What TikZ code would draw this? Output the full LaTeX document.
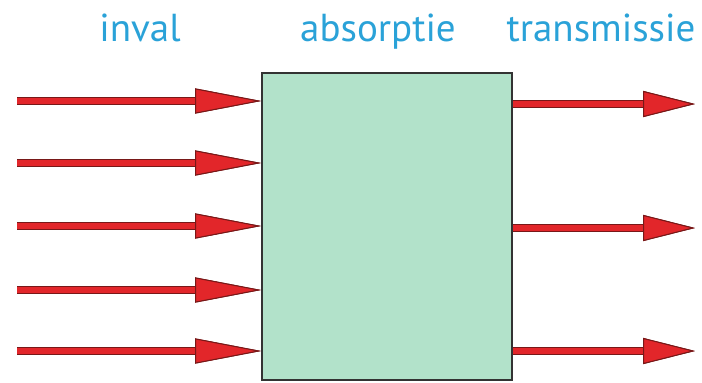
\documentclass[tikz,border=0pt]{standalone}
\usepackage{fontspec}
\setmainfont{PT Sans}
\usetikzlibrary{arrows.meta}

\definecolor{raycol}{RGB}{226,38,42}
\definecolor{rayedge}{RGB}{120,24,24}
\definecolor{mediumcol}{RGB}{178,226,202}
\definecolor{headcol}{RGB}{42,162,216}

\tikzset{
  ray/.style={draw=raycol, line width=6pt,
    preaction={draw=rayedge, line width=8pt}},
  inray/.style={ray, -{Triangle[length=66pt,width=25pt,fill=raycol,color=rayedge,line width=1pt]}},
  outray/.style={ray, -{Triangle[length=52pt,width=26pt,fill=raycol,color=rayedge,line width=1pt]}},
  heading/.style={text=headcol, font=\fontsize{39}{42}\selectfont, anchor=base},
}

\begin{document}
\begin{tikzpicture}[x=1pt,y=-1pt]
\useasboundingbox (0,0) rectangle (702,383);

% the absorbing layer
\node[draw=black!80, line width=1.6pt, fill=mediumcol, minimum width=250pt,
      minimum height=307pt, inner sep=0pt] (medium) at (387,226.5) {};

\node[heading] (inval) at (140,41) {inval};
\node[heading] (absorptie) at (378,41) {absorptie};
\node[heading] (transmissie) at (601,41) {transmissie};

% incoming light
\foreach \i/\y in {1/101,2/163,3/226,4/290,5/351}{
  \coordinate (in\i) at (17,\y);
  \draw[inray] (in\i) -- (medium.west |- in\i);
}

% transmitted light
\foreach \i/\y in {1/104,2/228,3/351}{
  \coordinate (out\i) at (695,\y);
  \draw[outray] (medium.east |- out\i) -- (out\i);
}
\end{tikzpicture}
\end{document}
